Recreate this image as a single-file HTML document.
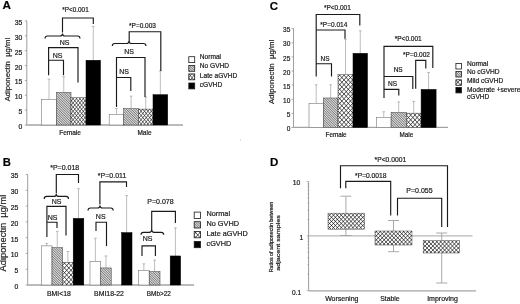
<!DOCTYPE html>
<html><head><meta charset="utf-8"><title>Figure</title>
<style>
html,body{margin:0;padding:0;background:#fff;}
body{width:520px;height:304px;overflow:hidden;}
svg{display:block;font-family:"Liberation Sans",sans-serif;filter:blur(0.3px);}
text{stroke:#1a1a1a;stroke-width:0.2px;}
</style></head><body>
<svg width="520" height="304" viewBox="0 0 520 304">
<rect width="520" height="304" fill="#fff"/>

<text x="2.6" y="8.5" font-size="11.7" text-anchor="start" font-weight="bold" fill="#000" >A</text>
<line x1="26.8" y1="20.580000000000002" x2="26.8" y2="125" stroke="#888" stroke-width="0.8"/>
<line x1="24.8" y1="125.0" x2="26.8" y2="125.0" stroke="#888" stroke-width="0.7"/>
<text x="22.4" y="128.95" font-size="6.8" text-anchor="end" font-weight="normal" fill="#1a1a1a" >0</text>
<line x1="24.8" y1="110.14" x2="26.8" y2="110.14" stroke="#888" stroke-width="0.7"/>
<text x="22.4" y="114.09" font-size="6.8" text-anchor="end" font-weight="normal" fill="#1a1a1a" >5</text>
<line x1="24.8" y1="95.28" x2="26.8" y2="95.28" stroke="#888" stroke-width="0.7"/>
<text x="22.4" y="99.23" font-size="6.8" text-anchor="end" font-weight="normal" fill="#1a1a1a" >10</text>
<line x1="24.8" y1="80.42" x2="26.8" y2="80.42" stroke="#888" stroke-width="0.7"/>
<text x="22.4" y="84.37" font-size="6.8" text-anchor="end" font-weight="normal" fill="#1a1a1a" >15</text>
<line x1="24.8" y1="65.56" x2="26.8" y2="65.56" stroke="#888" stroke-width="0.7"/>
<text x="22.4" y="69.51" font-size="6.8" text-anchor="end" font-weight="normal" fill="#1a1a1a" >20</text>
<line x1="24.8" y1="50.7" x2="26.8" y2="50.7" stroke="#888" stroke-width="0.7"/>
<text x="22.4" y="54.65" font-size="6.8" text-anchor="end" font-weight="normal" fill="#1a1a1a" >25</text>
<line x1="24.8" y1="35.84" x2="26.8" y2="35.84" stroke="#888" stroke-width="0.7"/>
<text x="22.4" y="39.79" font-size="6.8" text-anchor="end" font-weight="normal" fill="#1a1a1a" >30</text>
<line x1="24.8" y1="20.98" x2="26.8" y2="20.98" stroke="#888" stroke-width="0.7"/>
<text x="22.4" y="24.93" font-size="6.8" text-anchor="end" font-weight="normal" fill="#1a1a1a" >35</text>
<line x1="26.3" y1="125" x2="183" y2="125" stroke="#a4a4a4" stroke-width="1.3"/>
<text transform="translate(10.1,69.6) rotate(-90)" font-size="7.7" text-anchor="middle" fill="#1a1a1a" xml:space="preserve" >Adiponectin  µg/ml</text>
<line x1="49.0" y1="79.09" x2="49.0" y2="99.4" stroke="#a0a0a0" stroke-width="0.7"/>
<line x1="47.6" y1="79.09" x2="50.4" y2="79.09" stroke="#a0a0a0" stroke-width="0.7"/>
<line x1="63.75" y1="76.73" x2="63.75" y2="92.33" stroke="#a0a0a0" stroke-width="0.7"/>
<line x1="62.35" y1="76.73" x2="65.15" y2="76.73" stroke="#a0a0a0" stroke-width="0.7"/>
<line x1="93.25" y1="26.41" x2="93.25" y2="60.25" stroke="#a0a0a0" stroke-width="0.7"/>
<line x1="91.85" y1="26.41" x2="94.65" y2="26.41" stroke="#a0a0a0" stroke-width="0.7"/>
<rect x="41.5" y="99.4" width="15.0" height="25.6" fill="#fff" stroke="#777" stroke-width="0.6"/>
<rect x="56.5" y="92.33" width="14.5" height="32.67" fill="#fff"/>
<clipPath id="c1"><rect x="56.5" y="92.33" width="14.5" height="32.67"/></clipPath>
<path clip-path="url(#c1)" d="M22.63,92.33L55.3,125M24.33,92.33L57.0,125M26.03,92.33L58.7,125M27.73,92.33L60.4,125M29.43,92.33L62.1,125M31.13,92.33L63.8,125M32.83,92.33L65.5,125M34.53,92.33L67.2,125M36.23,92.33L68.9,125M37.93,92.33L70.6,125M39.63,92.33L72.3,125M41.33,92.33L74.0,125M43.03,92.33L75.7,125M44.73,92.33L77.4,125M46.43,92.33L79.1,125M48.13,92.33L80.8,125M49.83,92.33L82.5,125M51.53,92.33L84.2,125M53.23,92.33L85.9,125M54.93,92.33L87.6,125M56.63,92.33L89.3,125M58.33,92.33L91.0,125M60.03,92.33L92.7,125M61.73,92.33L94.4,125M63.43,92.33L96.1,125M65.13,92.33L97.8,125M66.83,92.33L99.5,125M68.53,92.33L101.2,125M70.23,92.33L102.9,125M71.93,92.33L104.6,125M73.63,92.33L106.3,125" stroke="#333" stroke-width="0.66" fill="none"/>
<rect x="56.5" y="92.33" width="14.5" height="32.67" fill="none" stroke="#333" stroke-width="0.5"/>
<rect x="71" y="97.63" width="15" height="27.37" fill="#fff"/>
<clipPath id="c2"><rect x="71" y="97.63" width="15" height="27.37"/></clipPath>
<path clip-path="url(#c2)" d="M45.03,97.63L67.19,125M48.43,97.63L70.59,125M51.83,97.63L73.99,125M55.23,97.63L77.39,125M58.63,97.63L80.79,125M62.03,97.63L84.19,125M65.43,97.63L87.59,125M68.83,97.63L90.99,125M72.23,97.63L94.39,125M75.63,97.63L97.79,125M79.03,97.63L101.19,125M82.43,97.63L104.59,125M85.83,97.63L107.99,125M89.23,97.63L111.39,125M92.63,97.63L114.79,125M63.77,97.63L41.61,125M67.17,97.63L45.01,125M70.57,97.63L48.41,125M73.97,97.63L51.81,125M77.37,97.63L55.21,125M80.77,97.63L58.61,125M84.17,97.63L62.01,125M87.57,97.63L65.41,125M90.97,97.63L68.81,125M94.37,97.63L72.21,125M97.77,97.63L75.61,125M101.17,97.63L79.01,125M104.57,97.63L82.41,125M107.97,97.63L85.81,125M111.37,97.63L89.21,125" stroke="#222" stroke-width="0.7" fill="none"/>
<rect x="71" y="97.63" width="15" height="27.37" fill="none" stroke="#333" stroke-width="0.5"/>
<rect x="86" y="60.25" width="14.5" height="64.75" fill="#000" stroke="#000" stroke-width="0.5"/>
<line x1="116.45" y1="108.52" x2="116.45" y2="114.41" stroke="#a0a0a0" stroke-width="0.7"/>
<line x1="115.05" y1="108.52" x2="117.85000000000001" y2="108.52" stroke="#a0a0a0" stroke-width="0.7"/>
<line x1="131.1" y1="96.16" x2="131.1" y2="108.52" stroke="#a0a0a0" stroke-width="0.7"/>
<line x1="129.7" y1="96.16" x2="132.5" y2="96.16" stroke="#a0a0a0" stroke-width="0.7"/>
<line x1="145.75" y1="97.04" x2="145.75" y2="109.11" stroke="#a0a0a0" stroke-width="0.7"/>
<line x1="144.35" y1="97.04" x2="147.15" y2="97.04" stroke="#a0a0a0" stroke-width="0.7"/>
<line x1="160.35" y1="70.85" x2="160.35" y2="94.69" stroke="#a0a0a0" stroke-width="0.7"/>
<line x1="158.95" y1="70.85" x2="161.75" y2="70.85" stroke="#a0a0a0" stroke-width="0.7"/>
<rect x="109.2" y="114.41" width="14.5" height="10.59" fill="#fff" stroke="#777" stroke-width="0.6"/>
<rect x="123.7" y="108.52" width="14.8" height="16.48" fill="#fff"/>
<clipPath id="c3"><rect x="123.7" y="108.52" width="14.8" height="16.48"/></clipPath>
<path clip-path="url(#c3)" d="M106.82,108.52L123.3,125M108.52,108.52L125.0,125M110.22,108.52L126.7,125M111.92,108.52L128.4,125M113.62,108.52L130.1,125M115.32,108.52L131.8,125M117.02,108.52L133.5,125M118.72,108.52L135.2,125M120.42,108.52L136.9,125M122.12,108.52L138.6,125M123.82,108.52L140.3,125M125.52,108.52L142.0,125M127.22,108.52L143.7,125M128.92,108.52L145.4,125M130.62,108.52L147.1,125M132.32,108.52L148.8,125M134.02,108.52L150.5,125M135.72,108.52L152.2,125M137.42,108.52L153.9,125M139.12,108.52L155.6,125M140.82,108.52L157.3,125M142.52,108.52L159.0,125" stroke="#333" stroke-width="0.66" fill="none"/>
<rect x="123.7" y="108.52" width="14.8" height="16.48" fill="none" stroke="#333" stroke-width="0.5"/>
<rect x="138.5" y="109.11" width="14.5" height="15.89" fill="#fff"/>
<clipPath id="c4"><rect x="138.5" y="109.11" width="14.5" height="15.89"/></clipPath>
<path clip-path="url(#c4)" d="M122.33,109.11L135.19,125M125.73,109.11L138.59,125M129.13,109.11L141.99,125M132.53,109.11L145.39,125M135.93,109.11L148.79,125M139.33,109.11L152.19,125M142.73,109.11L155.59,125M146.13,109.11L158.99,125M149.53,109.11L162.39,125M152.93,109.11L165.79,125M156.33,109.11L169.19,125M159.73,109.11L172.59,125M129.27,109.11L116.41,125M132.67,109.11L119.81,125M136.07,109.11L123.21,125M139.47,109.11L126.61,125M142.87,109.11L130.01,125M146.27,109.11L133.41,125M149.67,109.11L136.81,125M153.07,109.11L140.21,125M156.47,109.11L143.61,125M159.87,109.11L147.01,125M163.27,109.11L150.41,125M166.67,109.11L153.81,125" stroke="#222" stroke-width="0.7" fill="none"/>
<rect x="138.5" y="109.11" width="14.5" height="15.89" fill="none" stroke="#333" stroke-width="0.5"/>
<rect x="153" y="94.69" width="14.7" height="30.31" fill="#000" stroke="#000" stroke-width="0.5"/>
<text x="70" y="135" font-size="6.5" text-anchor="middle" font-weight="normal" fill="#1a1a1a" >Female</text>
<text x="144.5" y="135.3" font-size="6.5" text-anchor="middle" font-weight="normal" fill="#1a1a1a" >Male</text>
<text x="75.5" y="12.4" font-size="6.4" text-anchor="middle" font-weight="normal" fill="#1a1a1a" >*P&lt;0.001</text>
<polyline points="62.5,32.5 62.5,18 93.3,18 93.3,24" fill="none" stroke="#1a1a1a" stroke-width="1.15" stroke-linejoin="miter"/>
<path d="M45,38.5 Q45,36 47.5,36 L60.0,36 Q62.5,36 62.5,33.5 Q62.5,36 65.0,36 L77.5,36 Q80,36 80,38.5" fill="none" stroke="#1a1a1a" stroke-width="1.15"/>
<text x="64.5" y="45" font-size="7" text-anchor="middle" font-weight="normal" fill="#1a1a1a" >NS</text>
<polyline points="48.6,75.3 48.6,47.6 78,47.6 78,82.5" fill="none" stroke="#1a1a1a" stroke-width="1.15" stroke-linejoin="miter"/>
<text x="57.5" y="58" font-size="7" text-anchor="middle" font-weight="normal" fill="#1a1a1a" >NS</text>
<polyline points="48.6,60.2 63.5,60.2 63.5,75.3" fill="none" stroke="#1a1a1a" stroke-width="1.15" stroke-linejoin="miter"/>
<text x="142.5" y="27.8" font-size="6.5" text-anchor="middle" font-weight="normal" fill="#1a1a1a" >*P=0.003</text>
<polyline points="129.2,41.5 129.2,31.7 160.8,31.7 160.8,71" fill="none" stroke="#1a1a1a" stroke-width="1.15" stroke-linejoin="miter"/>
<path d="M112.3,46.0 Q112.3,43.5 114.8,43.5 L126.5,43.5 Q129,43.5 129,41.0 Q129,43.5 131.5,43.5 L143.5,43.5 Q146,43.5 146,46.0" fill="none" stroke="#1a1a1a" stroke-width="1.15"/>
<text x="129" y="54" font-size="7" text-anchor="middle" font-weight="normal" fill="#1a1a1a" >NS</text>
<polyline points="116.5,107 116.5,57.5 145,57.5 145,97" fill="none" stroke="#1a1a1a" stroke-width="1.15" stroke-linejoin="miter"/>
<text x="124" y="74" font-size="7" text-anchor="middle" font-weight="normal" fill="#1a1a1a" >NS</text>
<polyline points="116.5,77.5 130.8,77.5 130.8,91" fill="none" stroke="#1a1a1a" stroke-width="1.15" stroke-linejoin="miter"/>
<rect x="188.8" y="56.7" width="5.9" height="5.9" fill="#fff" stroke="#1a1a1a" stroke-width="0.8"/>
<text x="199.8" y="58.7" font-size="6.6" text-anchor="start" font-weight="normal" fill="#1a1a1a" >Normal</text>
<rect x="188.8" y="65.4" width="5.9" height="5.9" fill="#fff"/>
<clipPath id="c5"><rect x="188.8" y="65.4" width="5.9" height="5.9"/></clipPath>
<path clip-path="url(#c5)" d="M181.0,65.4L186.9,71.3M182.7,65.4L188.6,71.3M184.4,65.4L190.3,71.3M186.1,65.4L192.0,71.3M187.8,65.4L193.7,71.3M189.5,65.4L195.4,71.3M191.2,65.4L197.1,71.3M192.9,65.4L198.8,71.3M194.6,65.4L200.5,71.3M196.3,65.4L202.2,71.3M198.0,65.4L203.9,71.3" stroke="#333" stroke-width="0.66" fill="none"/>
<rect x="188.8" y="65.4" width="5.9" height="5.9" fill="none" stroke="#1a1a1a" stroke-width="0.8"/>
<text x="199.8" y="68.2" font-size="6.6" text-anchor="start" font-weight="normal" fill="#1a1a1a" >No GVHD</text>
<rect x="188.8" y="73.9" width="5.9" height="5.9" fill="#fff"/>
<clipPath id="c6"><rect x="188.8" y="73.9" width="5.9" height="5.9"/></clipPath>
<path clip-path="url(#c6)" d="M182.22,73.9L187.0,79.8M185.62,73.9L190.4,79.8M189.02,73.9L193.8,79.8M192.42,73.9L197.2,79.8M195.82,73.9L200.6,79.8M199.22,73.9L204.0,79.8M202.62,73.9L207.4,79.8M181.58,73.9L176.8,79.8M184.98,73.9L180.2,79.8M188.38,73.9L183.6,79.8M191.78,73.9L187.0,79.8M195.18,73.9L190.4,79.8M198.58,73.9L193.8,79.8M201.98,73.9L197.2,79.8" stroke="#222" stroke-width="0.7" fill="none"/>
<rect x="188.8" y="73.9" width="5.9" height="5.9" fill="none" stroke="#1a1a1a" stroke-width="0.8"/>
<text x="199.8" y="77.8" font-size="6.6" text-anchor="start" font-weight="normal" fill="#1a1a1a" >Late aGVHD</text>
<rect x="188.8" y="83" width="5.9" height="5.9" fill="#000" stroke="#1a1a1a" stroke-width="0.8"/>
<text x="199.8" y="87" font-size="6.6" text-anchor="start" font-weight="normal" fill="#1a1a1a" >cGVHD</text>
<text x="2.7" y="165.7" font-size="11.3" text-anchor="start" font-weight="bold" fill="#000" >B</text>
<line x1="27.7" y1="174.5" x2="27.7" y2="285" stroke="#888" stroke-width="0.8"/>
<line x1="25.7" y1="285.0" x2="27.7" y2="285.0" stroke="#888" stroke-width="0.7"/>
<text x="18.2" y="288.95" font-size="6.8" text-anchor="end" font-weight="normal" fill="#1a1a1a" >0</text>
<line x1="25.7" y1="269.21" x2="27.7" y2="269.21" stroke="#888" stroke-width="0.7"/>
<text x="18.2" y="273.16" font-size="6.8" text-anchor="end" font-weight="normal" fill="#1a1a1a" >5</text>
<line x1="25.7" y1="253.43" x2="27.7" y2="253.43" stroke="#888" stroke-width="0.7"/>
<text x="18.2" y="257.38" font-size="6.8" text-anchor="end" font-weight="normal" fill="#1a1a1a" >10</text>
<line x1="25.7" y1="237.64" x2="27.7" y2="237.64" stroke="#888" stroke-width="0.7"/>
<text x="18.2" y="241.59" font-size="6.8" text-anchor="end" font-weight="normal" fill="#1a1a1a" >15</text>
<line x1="25.7" y1="221.86" x2="27.7" y2="221.86" stroke="#888" stroke-width="0.7"/>
<text x="18.2" y="225.81" font-size="6.8" text-anchor="end" font-weight="normal" fill="#1a1a1a" >20</text>
<line x1="25.7" y1="206.07" x2="27.7" y2="206.07" stroke="#888" stroke-width="0.7"/>
<text x="18.2" y="210.02" font-size="6.8" text-anchor="end" font-weight="normal" fill="#1a1a1a" >25</text>
<line x1="25.7" y1="190.29" x2="27.7" y2="190.29" stroke="#888" stroke-width="0.7"/>
<text x="18.2" y="194.24" font-size="6.8" text-anchor="end" font-weight="normal" fill="#1a1a1a" >30</text>
<line x1="25.7" y1="174.5" x2="27.7" y2="174.5" stroke="#888" stroke-width="0.7"/>
<text x="18.2" y="178.45" font-size="6.8" text-anchor="end" font-weight="normal" fill="#1a1a1a" >35</text>
<line x1="27.2" y1="285" x2="194" y2="285" stroke="#a4a4a4" stroke-width="1.3"/>
<text transform="translate(5.6,233.1) rotate(-90)" font-size="9.3" text-anchor="middle" fill="#1a1a1a" xml:space="preserve" >Adiponectin  µg/ml</text>
<line x1="46.75" y1="243.33" x2="46.75" y2="245.85" stroke="#a0a0a0" stroke-width="0.7"/>
<line x1="45.35" y1="243.33" x2="48.15" y2="243.33" stroke="#a0a0a0" stroke-width="0.7"/>
<line x1="57.25" y1="231.33" x2="57.25" y2="247.43" stroke="#a0a0a0" stroke-width="0.7"/>
<line x1="55.85" y1="231.33" x2="58.65" y2="231.33" stroke="#a0a0a0" stroke-width="0.7"/>
<line x1="67.85" y1="251.54" x2="67.85" y2="262.27" stroke="#a0a0a0" stroke-width="0.7"/>
<line x1="66.44999999999999" y1="251.54" x2="69.25" y2="251.54" stroke="#a0a0a0" stroke-width="0.7"/>
<line x1="78.5" y1="188.71" x2="78.5" y2="218.39" stroke="#a0a0a0" stroke-width="0.7"/>
<line x1="77.1" y1="188.71" x2="79.9" y2="188.71" stroke="#a0a0a0" stroke-width="0.7"/>
<rect x="41.5" y="245.85" width="10.5" height="39.15" fill="#fff" stroke="#777" stroke-width="0.6"/>
<rect x="52" y="247.43" width="10.5" height="37.57" fill="#fff"/>
<clipPath id="c7"><rect x="52" y="247.43" width="10.5" height="37.57"/></clipPath>
<path clip-path="url(#c7)" d="M12.83,247.43L50.4,285M14.53,247.43L52.1,285M16.23,247.43L53.8,285M17.93,247.43L55.5,285M19.63,247.43L57.2,285M21.33,247.43L58.9,285M23.03,247.43L60.6,285M24.73,247.43L62.3,285M26.43,247.43L64.0,285M28.13,247.43L65.7,285M29.83,247.43L67.4,285M31.53,247.43L69.1,285M33.23,247.43L70.8,285M34.93,247.43L72.5,285M36.63,247.43L74.2,285M38.33,247.43L75.9,285M40.03,247.43L77.6,285M41.73,247.43L79.3,285M43.43,247.43L81.0,285M45.13,247.43L82.7,285M46.83,247.43L84.4,285M48.53,247.43L86.1,285M50.23,247.43L87.8,285M51.93,247.43L89.5,285M53.63,247.43L91.2,285M55.33,247.43L92.9,285M57.03,247.43L94.6,285M58.73,247.43L96.3,285M60.43,247.43L98.0,285M62.13,247.43L99.7,285M63.83,247.43L101.4,285M65.53,247.43L103.1,285" stroke="#333" stroke-width="0.66" fill="none"/>
<rect x="52" y="247.43" width="10.5" height="37.57" fill="none" stroke="#333" stroke-width="0.5"/>
<rect x="62.5" y="262.27" width="10.7" height="22.73" fill="#fff"/>
<clipPath id="c8"><rect x="62.5" y="262.27" width="10.7" height="22.73"/></clipPath>
<path clip-path="url(#c8)" d="M37.85,262.27L58.64,285M42.15,262.27L62.94,285M46.45,262.27L67.24,285M50.75,262.27L71.54,285M55.05,262.27L75.84,285M59.35,262.27L80.14,285M63.65,262.27L84.44,285M67.95,262.27L88.74,285M72.25,262.27L93.04,285M76.55,262.27L97.34,285M80.85,262.27L101.64,285M85.15,262.27L105.94,285M52.45,262.27L31.66,285M56.75,262.27L35.96,285M61.05,262.27L40.26,285M65.35,262.27L44.56,285M69.65,262.27L48.86,285M73.95,262.27L53.16,285M78.25,262.27L57.46,285M82.55,262.27L61.76,285M86.85,262.27L66.06,285M91.15,262.27L70.36,285M95.45,262.27L74.66,285" stroke="#222" stroke-width="0.8" fill="none"/>
<rect x="62.5" y="262.27" width="10.7" height="22.73" fill="none" stroke="#333" stroke-width="0.5"/>
<rect x="73.2" y="218.39" width="10.6" height="66.61" fill="#000" stroke="#000" stroke-width="0.5"/>
<line x1="95.35" y1="238.28" x2="95.35" y2="261.64" stroke="#a0a0a0" stroke-width="0.7"/>
<line x1="93.94999999999999" y1="238.28" x2="96.75" y2="238.28" stroke="#a0a0a0" stroke-width="0.7"/>
<rect x="90" y="261.64" width="10.7" height="23.36" fill="#fff" stroke="#777" stroke-width="0.6"/>
<line x1="105.95" y1="255.96" x2="105.95" y2="267.95" stroke="#a0a0a0" stroke-width="0.7"/>
<line x1="104.55" y1="255.96" x2="107.35000000000001" y2="255.96" stroke="#a0a0a0" stroke-width="0.7"/>
<rect x="100.7" y="267.95" width="10.5" height="17.05" fill="#fff"/>
<clipPath id="c9"><rect x="100.7" y="267.95" width="10.5" height="17.05"/></clipPath>
<path clip-path="url(#c9)" d="M82.65,267.95L99.7,285M84.35,267.95L101.4,285M86.05,267.95L103.1,285M87.75,267.95L104.8,285M89.45,267.95L106.5,285M91.15,267.95L108.2,285M92.85,267.95L109.9,285M94.55,267.95L111.6,285M96.25,267.95L113.3,285M97.95,267.95L115.0,285M99.65,267.95L116.7,285M101.35,267.95L118.4,285M103.05,267.95L120.1,285M104.75,267.95L121.8,285M106.45,267.95L123.5,285M108.15,267.95L125.2,285M109.85,267.95L126.9,285M111.55,267.95L128.6,285M113.25,267.95L130.3,285M114.95,267.95L132.0,285" stroke="#333" stroke-width="0.66" fill="none"/>
<rect x="100.7" y="267.95" width="10.5" height="17.05" fill="none" stroke="#333" stroke-width="0.5"/>
<line x1="126.6" y1="195.66" x2="126.6" y2="232.59" stroke="#a0a0a0" stroke-width="0.7"/>
<line x1="125.19999999999999" y1="195.66" x2="128.0" y2="195.66" stroke="#a0a0a0" stroke-width="0.7"/>
<rect x="121.6" y="232.59" width="10.4" height="52.41" fill="#000" stroke="#000" stroke-width="0.5"/>
<line x1="143.85" y1="263.85" x2="143.85" y2="270.48" stroke="#a0a0a0" stroke-width="0.7"/>
<line x1="142.45" y1="263.85" x2="145.25" y2="263.85" stroke="#a0a0a0" stroke-width="0.7"/>
<rect x="138.5" y="270.48" width="10.7" height="14.52" fill="#fff" stroke="#777" stroke-width="0.6"/>
<line x1="154.6" y1="260.06" x2="154.6" y2="271.42" stroke="#a0a0a0" stroke-width="0.7"/>
<line x1="153.2" y1="260.06" x2="156.0" y2="260.06" stroke="#a0a0a0" stroke-width="0.7"/>
<rect x="149.2" y="271.42" width="10.8" height="13.58" fill="#fff"/>
<clipPath id="c10"><rect x="149.2" y="271.42" width="10.8" height="13.58"/></clipPath>
<path clip-path="url(#c10)" d="M133.72,271.42L147.3,285M135.42,271.42L149.0,285M137.12,271.42L150.7,285M138.82,271.42L152.4,285M140.52,271.42L154.1,285M142.22,271.42L155.8,285M143.92,271.42L157.5,285M145.62,271.42L159.2,285M147.32,271.42L160.9,285M149.02,271.42L162.6,285M150.72,271.42L164.3,285M152.42,271.42L166.0,285M154.12,271.42L167.7,285M155.82,271.42L169.4,285M157.52,271.42L171.1,285M159.22,271.42L172.8,285M160.92,271.42L174.5,285M162.62,271.42L176.2,285M164.32,271.42L177.9,285" stroke="#333" stroke-width="0.66" fill="none"/>
<rect x="149.2" y="271.42" width="10.8" height="13.58" fill="none" stroke="#333" stroke-width="0.5"/>
<line x1="175.4" y1="227.86" x2="175.4" y2="255.96" stroke="#a0a0a0" stroke-width="0.7"/>
<line x1="174.0" y1="227.86" x2="176.8" y2="227.86" stroke="#a0a0a0" stroke-width="0.7"/>
<rect x="170.2" y="255.96" width="10.4" height="29.04" fill="#000" stroke="#000" stroke-width="0.5"/>
<text x="59" y="295.7" font-size="6.9" text-anchor="middle" font-weight="normal" fill="#1a1a1a" >BMI&lt;18</text>
<text x="109" y="295.7" font-size="6.9" text-anchor="middle" font-weight="normal" fill="#1a1a1a" >BMI18-22</text>
<text x="158.8" y="295.7" font-size="6.9" text-anchor="middle" font-weight="normal" fill="#1a1a1a" textLength="24" lengthAdjust="spacingAndGlyphs">BMb&gt;22</text>
<text x="64.7" y="169.9" font-size="7" text-anchor="middle" font-weight="normal" fill="#1a1a1a" >*P=0.018</text>
<polyline points="56.3,193.5 56.3,174.5 78.5,174.5 78.5,183" fill="none" stroke="#1a1a1a" stroke-width="1.15" stroke-linejoin="miter"/>
<path d="M44.2,198.9 Q44.2,196.4 46.7,196.4 L53.8,196.4 Q56.3,196.4 56.3,193.9 Q56.3,196.4 58.8,196.4 L66.0,196.4 Q68.5,196.4 68.5,198.9" fill="none" stroke="#1a1a1a" stroke-width="1.15"/>
<text x="56.5" y="204" font-size="7" text-anchor="middle" font-weight="normal" fill="#1a1a1a" >NS</text>
<polyline points="46.9,237 46.9,206.3 66,206.3 66,235.6" fill="none" stroke="#1a1a1a" stroke-width="1.15" stroke-linejoin="miter"/>
<text x="52.5" y="220.2" font-size="7" text-anchor="middle" font-weight="normal" fill="#1a1a1a" >NS</text>
<polyline points="46.9,222.2 57,222.2 57,228" fill="none" stroke="#1a1a1a" stroke-width="1.15" stroke-linejoin="miter"/>
<text x="112.1" y="177.9" font-size="7" text-anchor="middle" font-weight="normal" fill="#1a1a1a" >*P=0.011</text>
<polyline points="99.9,204.5 99.9,181.8 126.5,181.8 126.5,187" fill="none" stroke="#1a1a1a" stroke-width="1.15" stroke-linejoin="miter"/>
<path d="M88,210.5 Q88,208 90.5,208 L97.4,208 Q99.9,208 99.9,205.5 Q99.9,208 102.4,208 L110.7,208 Q113.2,208 113.2,210.5" fill="none" stroke="#1a1a1a" stroke-width="1.15"/>
<text x="100.7" y="218.5" font-size="7" text-anchor="middle" font-weight="normal" fill="#1a1a1a" >NS</text>
<polyline points="96,231 96,222.2 106.5,222.2 106.5,246" fill="none" stroke="#1a1a1a" stroke-width="1.15" stroke-linejoin="miter"/>
<text x="160.5" y="203.8" font-size="7" text-anchor="middle" font-weight="normal" fill="#1a1a1a" >P=0.078</text>
<polyline points="151.7,230 151.7,211.3 175.4,211.3 175.4,223" fill="none" stroke="#1a1a1a" stroke-width="1.15" stroke-linejoin="miter"/>
<path d="M141,234.8 Q141,232.3 143.5,232.3 L149.2,232.3 Q151.7,232.3 151.7,229.8 Q151.7,232.3 154.2,232.3 L161.2,232.3 Q163.7,232.3 163.7,234.8" fill="none" stroke="#1a1a1a" stroke-width="1.15"/>
<text x="147.6" y="241" font-size="7" text-anchor="middle" font-weight="normal" fill="#1a1a1a" >NS</text>
<polyline points="142,256 142,245.8 155.4,245.8 155.4,256" fill="none" stroke="#1a1a1a" stroke-width="1.15" stroke-linejoin="miter"/>
<rect x="194.2" y="212.1" width="6.3" height="6.3" fill="#fff" stroke="#1a1a1a" stroke-width="0.8"/>
<text x="206.5" y="215.5" font-size="7.3" text-anchor="start" font-weight="normal" fill="#1a1a1a" >Normal</text>
<rect x="194.2" y="221.7" width="6.3" height="6.3" fill="#fff"/>
<clipPath id="c11"><rect x="194.2" y="221.7" width="6.3" height="6.3"/></clipPath>
<path clip-path="url(#c11)" d="M186.0,221.7L192.3,228.0M187.7,221.7L194.0,228.0M189.4,221.7L195.7,228.0M191.1,221.7L197.4,228.0M192.8,221.7L199.1,228.0M194.5,221.7L200.8,228.0M196.2,221.7L202.5,228.0M197.9,221.7L204.2,228.0M199.6,221.7L205.9,228.0M201.3,221.7L207.6,228.0M203.0,221.7L209.3,228.0" stroke="#333" stroke-width="0.66" fill="none"/>
<rect x="194.2" y="221.7" width="6.3" height="6.3" fill="none" stroke="#1a1a1a" stroke-width="0.8"/>
<text x="206.5" y="225.5" font-size="7.3" text-anchor="start" font-weight="normal" fill="#1a1a1a" >No GVHD</text>
<rect x="194.2" y="231.5" width="6.3" height="6.3" fill="#fff"/>
<clipPath id="c12"><rect x="194.2" y="231.5" width="6.3" height="6.3"/></clipPath>
<path clip-path="url(#c12)" d="M181.7,231.5L187.46,237.8M186.0,231.5L191.76,237.8M190.3,231.5L196.06,237.8M194.6,231.5L200.36,237.8M198.9,231.5L204.66,237.8M203.2,231.5L208.96,237.8M207.5,231.5L213.26,237.8M188.1,231.5L182.34,237.8M192.4,231.5L186.64,237.8M196.7,231.5L190.94,237.8M201.0,231.5L195.24,237.8M205.3,231.5L199.54,237.8M209.6,231.5L203.84,237.8" stroke="#222" stroke-width="0.8" fill="none"/>
<rect x="194.2" y="231.5" width="6.3" height="6.3" fill="none" stroke="#1a1a1a" stroke-width="0.8"/>
<text x="206.5" y="235.9" font-size="7.3" text-anchor="start" font-weight="normal" fill="#1a1a1a" >Late aGVHD</text>
<rect x="194.2" y="241.4" width="6.3" height="6.3" fill="#000" stroke="#1a1a1a" stroke-width="0.8"/>
<text x="206.5" y="246.3" font-size="7.3" text-anchor="start" font-weight="normal" fill="#1a1a1a" >cGVHD</text>
<text x="269.8" y="9.6" font-size="11.4" text-anchor="start" font-weight="bold" fill="#000" >C</text>
<line x1="293.5" y1="28.32" x2="293.5" y2="127.5" stroke="#888" stroke-width="0.8"/>
<line x1="291.5" y1="127.5" x2="293.5" y2="127.5" stroke="#888" stroke-width="0.7"/>
<text x="290.3" y="131.24" font-size="6.5" text-anchor="end" font-weight="normal" fill="#1a1a1a" >0</text>
<line x1="291.5" y1="113.38" x2="293.5" y2="113.38" stroke="#888" stroke-width="0.7"/>
<text x="290.3" y="117.12" font-size="6.5" text-anchor="end" font-weight="normal" fill="#1a1a1a" >5</text>
<line x1="291.5" y1="99.25" x2="293.5" y2="99.25" stroke="#888" stroke-width="0.7"/>
<text x="290.3" y="102.99" font-size="6.5" text-anchor="end" font-weight="normal" fill="#1a1a1a" >10</text>
<line x1="291.5" y1="85.12" x2="293.5" y2="85.12" stroke="#888" stroke-width="0.7"/>
<text x="290.3" y="88.86" font-size="6.5" text-anchor="end" font-weight="normal" fill="#1a1a1a" >15</text>
<line x1="291.5" y1="71.0" x2="293.5" y2="71.0" stroke="#888" stroke-width="0.7"/>
<text x="290.3" y="74.74" font-size="6.5" text-anchor="end" font-weight="normal" fill="#1a1a1a" >20</text>
<line x1="291.5" y1="56.88" x2="293.5" y2="56.88" stroke="#888" stroke-width="0.7"/>
<text x="290.3" y="60.62" font-size="6.5" text-anchor="end" font-weight="normal" fill="#1a1a1a" >25</text>
<line x1="291.5" y1="42.75" x2="293.5" y2="42.75" stroke="#888" stroke-width="0.7"/>
<text x="290.3" y="46.49" font-size="6.5" text-anchor="end" font-weight="normal" fill="#1a1a1a" >30</text>
<line x1="291.5" y1="28.62" x2="293.5" y2="28.62" stroke="#888" stroke-width="0.7"/>
<text x="290.3" y="32.36" font-size="6.5" text-anchor="end" font-weight="normal" fill="#1a1a1a" >35</text>
<line x1="293" y1="127.3" x2="448" y2="127.3" stroke="#a4a4a4" stroke-width="1.3"/>
<text transform="translate(273.8,71.9) rotate(-90)" font-size="7.8" text-anchor="middle" fill="#1a1a1a" xml:space="preserve" >Adiponectin  µg/ml</text>
<line x1="316.2" y1="84.79" x2="316.2" y2="103.33" stroke="#a0a0a0" stroke-width="0.7"/>
<line x1="314.8" y1="84.79" x2="317.59999999999997" y2="84.79" stroke="#a0a0a0" stroke-width="0.7"/>
<line x1="330.7" y1="84.79" x2="330.7" y2="98.0" stroke="#a0a0a0" stroke-width="0.7"/>
<line x1="329.3" y1="84.79" x2="332.09999999999997" y2="84.79" stroke="#a0a0a0" stroke-width="0.7"/>
<line x1="345.5" y1="39.27" x2="345.5" y2="74.67" stroke="#a0a0a0" stroke-width="0.7"/>
<line x1="344.1" y1="39.27" x2="346.9" y2="39.27" stroke="#a0a0a0" stroke-width="0.7"/>
<line x1="360.25" y1="30.84" x2="360.25" y2="53.32" stroke="#a0a0a0" stroke-width="0.7"/>
<line x1="358.85" y1="30.84" x2="361.65" y2="30.84" stroke="#a0a0a0" stroke-width="0.7"/>
<rect x="309" y="103.33" width="14.4" height="24.17" fill="#fff" stroke="#777" stroke-width="0.6"/>
<rect x="323.4" y="98.0" width="14.6" height="29.5" fill="#fff"/>
<clipPath id="c13"><rect x="323.4" y="98.0" width="14.6" height="29.5"/></clipPath>
<path clip-path="url(#c13)" d="M291.8,98.0L321.3,127.5M293.5,98.0L323.0,127.5M295.2,98.0L324.7,127.5M296.9,98.0L326.4,127.5M298.6,98.0L328.1,127.5M300.3,98.0L329.8,127.5M302.0,98.0L331.5,127.5M303.7,98.0L333.2,127.5M305.4,98.0L334.9,127.5M307.1,98.0L336.6,127.5M308.8,98.0L338.3,127.5M310.5,98.0L340.0,127.5M312.2,98.0L341.7,127.5M313.9,98.0L343.4,127.5M315.6,98.0L345.1,127.5M317.3,98.0L346.8,127.5M319.0,98.0L348.5,127.5M320.7,98.0L350.2,127.5M322.4,98.0L351.9,127.5M324.1,98.0L353.6,127.5M325.8,98.0L355.3,127.5M327.5,98.0L357.0,127.5M329.2,98.0L358.7,127.5M330.9,98.0L360.4,127.5M332.6,98.0L362.1,127.5M334.3,98.0L363.8,127.5M336.0,98.0L365.5,127.5M337.7,98.0L367.2,127.5M339.4,98.0L368.9,127.5M341.1,98.0L370.6,127.5" stroke="#333" stroke-width="0.66" fill="none"/>
<rect x="323.4" y="98.0" width="14.6" height="29.5" fill="none" stroke="#333" stroke-width="0.5"/>
<rect x="338" y="74.67" width="15" height="52.83" fill="#fff"/>
<clipPath id="c14"><rect x="338" y="74.67" width="15" height="52.83"/></clipPath>
<path clip-path="url(#c14)" d="M287.62,74.67L335.95,127.5M291.92,74.67L340.25,127.5M296.22,74.67L344.55,127.5M300.52,74.67L348.85,127.5M304.82,74.67L353.15,127.5M309.12,74.67L357.45,127.5M313.42,74.67L361.75,127.5M317.72,74.67L366.05,127.5M322.02,74.67L370.35,127.5M326.32,74.67L374.65,127.5M330.62,74.67L378.95,127.5M334.92,74.67L383.25,127.5M339.22,74.67L387.55,127.5M343.52,74.67L391.85,127.5M347.82,74.67L396.15,127.5M352.12,74.67L400.45,127.5M356.42,74.67L404.75,127.5M360.72,74.67L409.05,127.5M365.02,74.67L413.35,127.5M327.28,74.67L278.95,127.5M331.58,74.67L283.25,127.5M335.88,74.67L287.55,127.5M340.18,74.67L291.85,127.5M344.48,74.67L296.15,127.5M348.78,74.67L300.45,127.5M353.08,74.67L304.75,127.5M357.38,74.67L309.05,127.5M361.68,74.67L313.35,127.5M365.98,74.67L317.65,127.5M370.28,74.67L321.95,127.5M374.58,74.67L326.25,127.5M378.88,74.67L330.55,127.5M383.18,74.67L334.85,127.5M387.48,74.67L339.15,127.5M391.78,74.67L343.45,127.5M396.08,74.67L347.75,127.5M400.38,74.67L352.05,127.5M404.68,74.67L356.35,127.5" stroke="#222" stroke-width="0.8" fill="none"/>
<rect x="338" y="74.67" width="15" height="52.83" fill="none" stroke="#333" stroke-width="0.5"/>
<rect x="353" y="53.32" width="14.5" height="74.18" fill="#000" stroke="#000" stroke-width="0.5"/>
<line x1="383.75" y1="111.76" x2="383.75" y2="117.38" stroke="#a0a0a0" stroke-width="0.7"/>
<line x1="382.35" y1="111.76" x2="385.15" y2="111.76" stroke="#a0a0a0" stroke-width="0.7"/>
<line x1="398.70000000000005" y1="101.93" x2="398.70000000000005" y2="112.33" stroke="#a0a0a0" stroke-width="0.7"/>
<line x1="397.30000000000007" y1="101.93" x2="400.1" y2="101.93" stroke="#a0a0a0" stroke-width="0.7"/>
<line x1="413.70000000000005" y1="101.37" x2="413.70000000000005" y2="113.17" stroke="#a0a0a0" stroke-width="0.7"/>
<line x1="412.30000000000007" y1="101.37" x2="415.1" y2="101.37" stroke="#a0a0a0" stroke-width="0.7"/>
<line x1="428.6" y1="72.42" x2="428.6" y2="89.42" stroke="#a0a0a0" stroke-width="0.7"/>
<line x1="427.20000000000005" y1="72.42" x2="430.0" y2="72.42" stroke="#a0a0a0" stroke-width="0.7"/>
<rect x="376.4" y="117.38" width="14.7" height="10.12" fill="#fff" stroke="#777" stroke-width="0.6"/>
<rect x="391.1" y="112.33" width="15.2" height="15.17" fill="#fff"/>
<clipPath id="c15"><rect x="391.1" y="112.33" width="15.2" height="15.17"/></clipPath>
<path clip-path="url(#c15)" d="M374.13,112.33L389.3,127.5M375.83,112.33L391.0,127.5M377.53,112.33L392.7,127.5M379.23,112.33L394.4,127.5M380.93,112.33L396.1,127.5M382.63,112.33L397.8,127.5M384.33,112.33L399.5,127.5M386.03,112.33L401.2,127.5M387.73,112.33L402.9,127.5M389.43,112.33L404.6,127.5M391.13,112.33L406.3,127.5M392.83,112.33L408.0,127.5M394.53,112.33L409.7,127.5M396.23,112.33L411.4,127.5M397.93,112.33L413.1,127.5M399.63,112.33L414.8,127.5M401.33,112.33L416.5,127.5M403.03,112.33L418.2,127.5M404.73,112.33L419.9,127.5M406.43,112.33L421.6,127.5M408.13,112.33L423.3,127.5" stroke="#333" stroke-width="0.66" fill="none"/>
<rect x="391.1" y="112.33" width="15.2" height="15.17" fill="none" stroke="#333" stroke-width="0.5"/>
<rect x="406.3" y="113.17" width="14.8" height="14.33" fill="#fff"/>
<clipPath id="c16"><rect x="406.3" y="113.17" width="14.8" height="14.33"/></clipPath>
<path clip-path="url(#c16)" d="M387.34,113.17L400.45,127.5M391.64,113.17L404.75,127.5M395.94,113.17L409.05,127.5M400.24,113.17L413.35,127.5M404.54,113.17L417.65,127.5M408.84,113.17L421.95,127.5M413.14,113.17L426.25,127.5M417.44,113.17L430.55,127.5M421.74,113.17L434.85,127.5M426.04,113.17L439.15,127.5M399.56,113.17L386.45,127.5M403.86,113.17L390.75,127.5M408.16,113.17L395.05,127.5M412.46,113.17L399.35,127.5M416.76,113.17L403.65,127.5M421.06,113.17L407.95,127.5M425.36,113.17L412.25,127.5M429.66,113.17L416.55,127.5M433.96,113.17L420.85,127.5M438.26,113.17L425.15,127.5" stroke="#222" stroke-width="0.8" fill="none"/>
<rect x="406.3" y="113.17" width="14.8" height="14.33" fill="none" stroke="#333" stroke-width="0.5"/>
<rect x="421.1" y="89.42" width="15.0" height="38.08" fill="#000" stroke="#000" stroke-width="0.5"/>
<text x="336.1" y="137.2" font-size="6.3" text-anchor="middle" font-weight="normal" fill="#1a1a1a" >Female</text>
<text x="406.4" y="137.2" font-size="6.3" text-anchor="middle" font-weight="normal" fill="#1a1a1a" >Male</text>
<text x="337.4" y="9.8" font-size="6.5" text-anchor="middle" font-weight="normal" fill="#1a1a1a" >*P&lt;0.001</text>
<polyline points="316.2,76.6 316.2,14.5 359.8,14.5 359.8,25.5" fill="none" stroke="#1a1a1a" stroke-width="1.15" stroke-linejoin="miter"/>
<text x="333.8" y="27.2" font-size="6.5" text-anchor="middle" font-weight="normal" fill="#1a1a1a" >*P=0.014</text>
<polyline points="316.2,30 345,30 345,38.7" fill="none" stroke="#1a1a1a" stroke-width="1.15" stroke-linejoin="miter"/>
<text x="325" y="61" font-size="6.5" text-anchor="middle" font-weight="normal" fill="#1a1a1a" >NS</text>
<polyline points="316.2,63.7 331.5,63.7 331.5,76.6" fill="none" stroke="#1a1a1a" stroke-width="1.15" stroke-linejoin="miter"/>
<text x="408.2" y="41.3" font-size="6.5" text-anchor="middle" font-weight="normal" fill="#1a1a1a" >*P&lt;0.001</text>
<polyline points="384,98 384,46.4 432.8,46.4 432.8,68" fill="none" stroke="#1a1a1a" stroke-width="1.15" stroke-linejoin="miter"/>
<text x="416.5" y="56.8" font-size="6.5" text-anchor="middle" font-weight="normal" fill="#1a1a1a" >*P=0.002</text>
<polyline points="415.7,88.8 415.7,60.4 425.8,60.4 425.8,68.6" fill="none" stroke="#1a1a1a" stroke-width="1.15" stroke-linejoin="miter"/>
<text x="398.2" y="71.5" font-size="6.5" text-anchor="middle" font-weight="normal" fill="#1a1a1a" >NS</text>
<polyline points="384,76.5 412.8,76.5 412.8,89" fill="none" stroke="#1a1a1a" stroke-width="1.15" stroke-linejoin="miter"/>
<text x="392.5" y="86.3" font-size="6.5" text-anchor="middle" font-weight="normal" fill="#1a1a1a" >NS</text>
<polyline points="384,89.4 398.8,89.4 398.8,95.5" fill="none" stroke="#1a1a1a" stroke-width="1.15" stroke-linejoin="miter"/>
<rect x="455.9" y="63.5" width="5.5" height="5.5" fill="#fff" stroke="#1a1a1a" stroke-width="0.8"/>
<text x="467" y="66" font-size="6.6" text-anchor="start" font-weight="normal" fill="#1a1a1a" >Normal</text>
<rect x="455.9" y="71.5" width="5.5" height="5.5" fill="#fff"/>
<clipPath id="c17"><rect x="455.9" y="71.5" width="5.5" height="5.5"/></clipPath>
<path clip-path="url(#c17)" d="M447.2,71.5L452.7,77.0M448.9,71.5L454.4,77.0M450.6,71.5L456.1,77.0M452.3,71.5L457.8,77.0M454.0,71.5L459.5,77.0M455.7,71.5L461.2,77.0M457.4,71.5L462.9,77.0M459.1,71.5L464.6,77.0M460.8,71.5L466.3,77.0M462.5,71.5L468.0,77.0M464.2,71.5L469.7,77.0" stroke="#333" stroke-width="0.66" fill="none"/>
<rect x="455.9" y="71.5" width="5.5" height="5.5" fill="none" stroke="#1a1a1a" stroke-width="0.8"/>
<text x="467" y="74.1" font-size="6.6" text-anchor="start" font-weight="normal" fill="#1a1a1a" >No cGVHD</text>
<rect x="455.9" y="79.8" width="5.5" height="5.5" fill="#fff"/>
<clipPath id="c18"><rect x="455.9" y="79.8" width="5.5" height="5.5"/></clipPath>
<path clip-path="url(#c18)" d="M447.11,79.8L452.14,85.3M451.41,79.8L456.44,85.3M455.71,79.8L460.74,85.3M460.01,79.8L465.04,85.3M464.31,79.8L469.34,85.3M468.61,79.8L473.64,85.3M472.91,79.8L477.94,85.3M447.29,79.8L442.26,85.3M451.59,79.8L446.56,85.3M455.89,79.8L450.86,85.3M460.19,79.8L455.16,85.3M464.49,79.8L459.46,85.3M468.79,79.8L463.76,85.3" stroke="#222" stroke-width="0.8" fill="none"/>
<rect x="455.9" y="79.8" width="5.5" height="5.5" fill="none" stroke="#1a1a1a" stroke-width="0.8"/>
<text x="467" y="83.2" font-size="6.6" text-anchor="start" font-weight="normal" fill="#1a1a1a" >Mild cGVHD</text>
<rect x="455.9" y="87.4" width="5.5" height="5.5" fill="#000" stroke="#1a1a1a" stroke-width="0.8"/>
<text x="467" y="92" font-size="6.6" text-anchor="start" font-weight="normal" fill="#1a1a1a" >Moderate +severe</text>
<text x="467" y="98.9" font-size="6.6" text-anchor="start" font-weight="normal" fill="#1a1a1a" >cGVHD</text>
<text x="269.9" y="165.9" font-size="11.5" text-anchor="start" font-weight="bold" fill="#000" >D</text>
<line x1="308.6" y1="181.5" x2="308.6" y2="290.5" stroke="#7a7a7a" stroke-width="0.75"/>
<line x1="306.6" y1="290.5" x2="308.6" y2="290.5" stroke="#8c8c8c" stroke-width="0.6"/>
<line x1="307.40000000000003" y1="274.09" x2="308.6" y2="274.09" stroke="#8c8c8c" stroke-width="0.6"/>
<line x1="307.40000000000003" y1="264.5" x2="308.6" y2="264.5" stroke="#8c8c8c" stroke-width="0.6"/>
<line x1="307.40000000000003" y1="257.69" x2="308.6" y2="257.69" stroke="#8c8c8c" stroke-width="0.6"/>
<line x1="307.40000000000003" y1="252.41" x2="308.6" y2="252.41" stroke="#8c8c8c" stroke-width="0.6"/>
<line x1="307.40000000000003" y1="248.09" x2="308.6" y2="248.09" stroke="#8c8c8c" stroke-width="0.6"/>
<line x1="307.40000000000003" y1="244.44" x2="308.6" y2="244.44" stroke="#8c8c8c" stroke-width="0.6"/>
<line x1="307.40000000000003" y1="241.28" x2="308.6" y2="241.28" stroke="#8c8c8c" stroke-width="0.6"/>
<line x1="307.40000000000003" y1="238.49" x2="308.6" y2="238.49" stroke="#8c8c8c" stroke-width="0.6"/>
<line x1="306.6" y1="236.0" x2="308.6" y2="236.0" stroke="#8c8c8c" stroke-width="0.6"/>
<line x1="307.40000000000003" y1="219.59" x2="308.6" y2="219.59" stroke="#8c8c8c" stroke-width="0.6"/>
<line x1="307.40000000000003" y1="210.0" x2="308.6" y2="210.0" stroke="#8c8c8c" stroke-width="0.6"/>
<line x1="307.40000000000003" y1="203.19" x2="308.6" y2="203.19" stroke="#8c8c8c" stroke-width="0.6"/>
<line x1="307.40000000000003" y1="197.91" x2="308.6" y2="197.91" stroke="#8c8c8c" stroke-width="0.6"/>
<line x1="307.40000000000003" y1="193.59" x2="308.6" y2="193.59" stroke="#8c8c8c" stroke-width="0.6"/>
<line x1="307.40000000000003" y1="189.94" x2="308.6" y2="189.94" stroke="#8c8c8c" stroke-width="0.6"/>
<line x1="307.40000000000003" y1="186.78" x2="308.6" y2="186.78" stroke="#8c8c8c" stroke-width="0.6"/>
<line x1="307.40000000000003" y1="183.99" x2="308.6" y2="183.99" stroke="#8c8c8c" stroke-width="0.6"/>
<line x1="306.6" y1="181.5" x2="308.6" y2="181.5" stroke="#8c8c8c" stroke-width="0.6"/>
<text x="300.4" y="184.9" font-size="6.8" text-anchor="end" font-weight="normal" fill="#1a1a1a" >10</text>
<text x="303.4" y="239.7" font-size="6.8" text-anchor="end" font-weight="normal" fill="#1a1a1a" >1</text>
<text x="301.2" y="294.9" font-size="6.6" text-anchor="end" font-weight="normal" fill="#1a1a1a" >0.1</text>
<line x1="308.6" y1="290.8" x2="476" y2="290.8" stroke="#a4a4a4" stroke-width="1.3"/>
<line x1="308.6" y1="235.9" x2="472.5" y2="235.9" stroke="#8a8a8a" stroke-width="0.75"/>
<text transform="translate(272.6,272.3) rotate(-90)" font-size="5.5" text-anchor="start" fill="#1a1a1a" xml:space="preserve" textLength="70.5" lengthAdjust="spacingAndGlyphs">Ratios of adiponectin between</text>
<text transform="translate(279.6,270.7) rotate(-90)" font-size="5.8" text-anchor="start" fill="#1a1a1a" xml:space="preserve" textLength="55.5" lengthAdjust="spacingAndGlyphs">adjacent samples</text>
<line x1="345.9" y1="196.2" x2="345.9" y2="235.5" stroke="#a0a0a0" stroke-width="0.9"/>
<line x1="340.4" y1="196.2" x2="351.4" y2="196.2" stroke="#a0a0a0" stroke-width="0.9"/>
<line x1="340.4" y1="235.5" x2="351.4" y2="235.5" stroke="#a0a0a0" stroke-width="0.9"/>
<rect x="328" y="213.2" width="36.5" height="16.0" fill="#fff"/>
<clipPath id="c19"><rect x="328" y="213.2" width="36.5" height="16.0"/></clipPath>
<path clip-path="url(#c19)" d="M312.0,213.2L327.22,229.2M315.9,213.2L331.12,229.2M319.8,213.2L335.02,229.2M323.7,213.2L338.92,229.2M327.6,213.2L342.82,229.2M331.5,213.2L346.72,229.2M335.4,213.2L350.62,229.2M339.3,213.2L354.52,229.2M343.2,213.2L358.42,229.2M347.1,213.2L362.32,229.2M351.0,213.2L366.22,229.2M354.9,213.2L370.12,229.2M358.8,213.2L374.02,229.2M362.7,213.2L377.92,229.2M366.6,213.2L381.82,229.2M370.5,213.2L385.72,229.2M374.4,213.2L389.62,229.2M319.8,213.2L304.58,229.2M323.7,213.2L308.48,229.2M327.6,213.2L312.38,229.2M331.5,213.2L316.28,229.2M335.4,213.2L320.18,229.2M339.3,213.2L324.08,229.2M343.2,213.2L327.98,229.2M347.1,213.2L331.88,229.2M351.0,213.2L335.78,229.2M354.9,213.2L339.68,229.2M358.8,213.2L343.58,229.2M362.7,213.2L347.48,229.2M366.6,213.2L351.38,229.2M370.5,213.2L355.28,229.2M374.4,213.2L359.18,229.2M378.3,213.2L363.08,229.2M382.2,213.2L366.98,229.2" stroke="#111" stroke-width="0.72" fill="none"/>
<rect x="328" y="213.2" width="36.5" height="16.0" fill="none" stroke="#444" stroke-width="0.5"/>
<line x1="393.5" y1="220.5" x2="393.5" y2="251.7" stroke="#a0a0a0" stroke-width="0.9"/>
<line x1="388.0" y1="220.5" x2="399.0" y2="220.5" stroke="#a0a0a0" stroke-width="0.9"/>
<line x1="388.0" y1="251.7" x2="399.0" y2="251.7" stroke="#a0a0a0" stroke-width="0.9"/>
<rect x="375" y="231" width="37" height="14" fill="#fff"/>
<clipPath id="c20"><rect x="375" y="231" width="37" height="14"/></clipPath>
<path clip-path="url(#c20)" d="M356.23,231L369.55,245M360.13,231L373.45,245M364.03,231L377.35,245M367.93,231L381.25,245M371.83,231L385.15,245M375.73,231L389.05,245M379.63,231L392.95,245M383.53,231L396.85,245M387.43,231L400.75,245M391.33,231L404.65,245M395.23,231L408.55,245M399.13,231L412.45,245M403.03,231L416.35,245M406.93,231L420.25,245M410.83,231L424.15,245M414.73,231L428.05,245M418.63,231L431.95,245M369.17,231L355.85,245M373.07,231L359.75,245M376.97,231L363.65,245M380.87,231L367.55,245M384.77,231L371.45,245M388.67,231L375.35,245M392.57,231L379.25,245M396.47,231L383.15,245M400.37,231L387.05,245M404.27,231L390.95,245M408.17,231L394.85,245M412.07,231L398.75,245M415.97,231L402.65,245M419.87,231L406.55,245M423.77,231L410.45,245M427.67,231L414.35,245M431.57,231L418.25,245" stroke="#111" stroke-width="0.72" fill="none"/>
<rect x="375" y="231" width="37" height="14" fill="none" stroke="#444" stroke-width="0.5"/>
<line x1="441.7" y1="233" x2="441.7" y2="283" stroke="#a0a0a0" stroke-width="0.9"/>
<line x1="436.2" y1="233" x2="447.2" y2="233" stroke="#a0a0a0" stroke-width="0.9"/>
<line x1="436.2" y1="283" x2="447.2" y2="283" stroke="#a0a0a0" stroke-width="0.9"/>
<rect x="423.2" y="240.5" width="36.3" height="12.5" fill="#fff"/>
<clipPath id="c21"><rect x="423.2" y="240.5" width="36.3" height="12.5"/></clipPath>
<path clip-path="url(#c21)" d="M408.17,240.5L420.06,253M412.07,240.5L423.96,253M415.97,240.5L427.86,253M419.87,240.5L431.76,253M423.77,240.5L435.66,253M427.67,240.5L439.56,253M431.57,240.5L443.46,253M435.47,240.5L447.36,253M439.37,240.5L451.26,253M443.27,240.5L455.16,253M447.17,240.5L459.06,253M451.07,240.5L462.96,253M454.97,240.5L466.86,253M458.87,240.5L470.76,253M462.77,240.5L474.66,253M466.67,240.5L478.56,253M414.73,240.5L402.84,253M418.63,240.5L406.74,253M422.53,240.5L410.64,253M426.43,240.5L414.54,253M430.33,240.5L418.44,253M434.23,240.5L422.34,253M438.13,240.5L426.24,253M442.03,240.5L430.14,253M445.93,240.5L434.04,253M449.83,240.5L437.94,253M453.73,240.5L441.84,253M457.63,240.5L445.74,253M461.53,240.5L449.64,253M465.43,240.5L453.54,253M469.33,240.5L457.44,253M473.23,240.5L461.34,253" stroke="#111" stroke-width="0.72" fill="none"/>
<rect x="423.2" y="240.5" width="36.3" height="12.5" fill="none" stroke="#444" stroke-width="0.5"/>
<text x="341.8" y="301.3" font-size="7" text-anchor="middle" font-weight="normal" fill="#1a1a1a" >Worsening</text>
<text x="389.9" y="301.3" font-size="6.9" text-anchor="middle" font-weight="normal" fill="#1a1a1a" >Stable</text>
<text x="442.5" y="301.3" font-size="7" text-anchor="middle" font-weight="normal" fill="#1a1a1a" >Improving</text>
<text x="390.4" y="162.2" font-size="7" text-anchor="middle" font-weight="normal" fill="#1a1a1a" textLength="31.6" lengthAdjust="spacingAndGlyphs">*P&lt;0.0001</text>
<polyline points="340.5,188.2 340.5,165.7 447.5,165.7 447.5,227" fill="none" stroke="#1a1a1a" stroke-width="1.15" stroke-linejoin="miter"/>
<text x="370.8" y="178.1" font-size="6.7" text-anchor="middle" font-weight="normal" fill="#1a1a1a" >*P=0.0018</text>
<polyline points="345.8,188.2 345.8,181.3 390.7,181.3 390.7,215.5" fill="none" stroke="#1a1a1a" stroke-width="1.15" stroke-linejoin="miter"/>
<text x="419.5" y="193.3" font-size="7" text-anchor="middle" font-weight="normal" fill="#1a1a1a" >P=0.055</text>
<polyline points="397.5,215.5 397.5,198.2 441.7,198.2 441.7,227" fill="none" stroke="#1a1a1a" stroke-width="1.15" stroke-linejoin="miter"/>
<circle cx="240.4" cy="140.2" r="0.6" fill="#c4c4c4"/>
</svg></body></html>
